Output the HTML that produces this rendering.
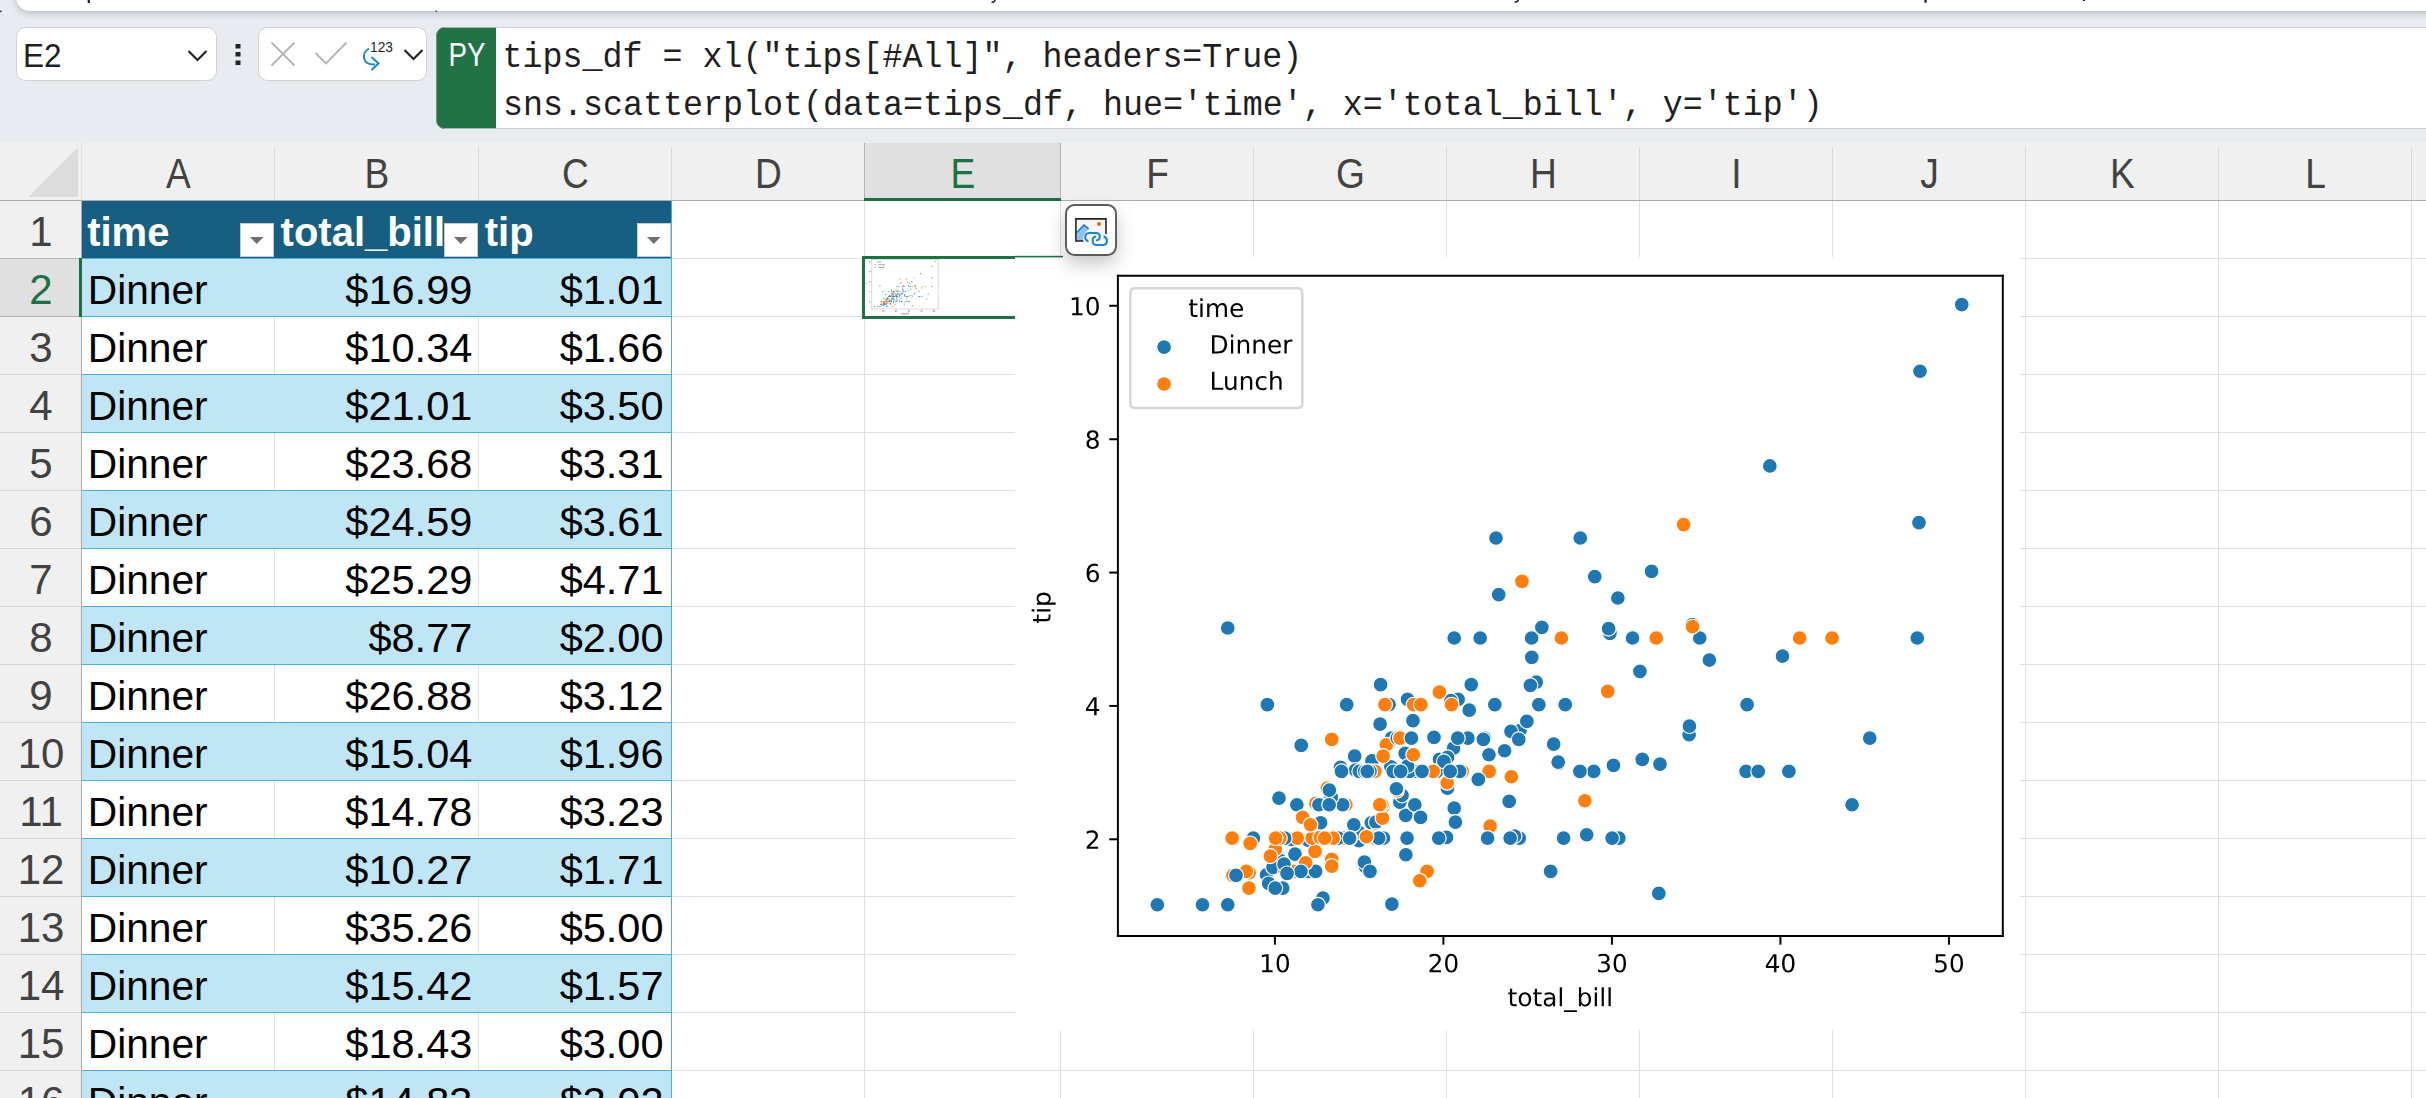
<!DOCTYPE html>
<html><head><meta charset="utf-8"><title>Excel Python</title>
<style>
html,body{margin:0;padding:0;width:2426px;height:1098px;overflow:hidden;background:#fff}
.mb{fill:#1f77b4;stroke:#fff;stroke-width:0.48} .mo{fill:#ff7f0e;stroke:#fff;stroke-width:0.48}
svg text{font-family:"Liberation Sans",sans-serif}
.mono{font-family:"Liberation Mono",monospace}
</style></head><body>
<svg width="2426" height="1098" viewBox="0 0 2426 1098" style="position:absolute;left:0;top:0;display:block">
<defs>
<filter id="tbshadow" x="-5%" y="-50%" width="110%" height="300%"><feDropShadow dx="0" dy="2.5" stdDeviation="3.5" flood-color="#000" flood-opacity="0.2"/></filter>
<filter id="btnshadow" x="-80%" y="-80%" width="260%" height="260%"><feDropShadow dx="0" dy="8" stdDeviation="9" flood-color="#000" flood-opacity="0.22"/></filter>
<clipPath id="cardclip"><rect x="1015" y="257" width="1005" height="773"/></clipPath>
<clipPath id="thumbclip"><rect x="864" y="258" width="151" height="58"/></clipPath>
<clipPath id="pyclip"><rect x="436.5" y="27.5" width="2000" height="101" rx="8"/></clipPath>
</defs>

<rect x="0" y="0" width="2426" height="143" fill="#e8ecf0"/>
<rect x="16.3" y="-30" width="2440" height="41" rx="14" fill="#fff" filter="url(#tbshadow)"/>
<rect x="0" y="10.6" width="1.6" height="1.6" fill="#333"/>
<rect x="87.7" y="0" width="2.2" height="3" fill="#222"/>
<rect x="1924.4" y="0" width="2.3" height="2.7" fill="#222"/>
<rect x="2082.8" y="0" width="2.2" height="1" fill="#222"/>
<path d="M995.2 -1 Q995 2.5 991.5 2.3" fill="none" stroke="#222" stroke-width="1.6"/>
<path d="M1518.4 -1 Q1518.2 2.2 1514.6 2.0" fill="none" stroke="#222" stroke-width="1.6"/>
<rect x="435.5" y="10.5" width="1.5" height="1.5" fill="#444"/>
<rect x="16.5" y="27.5" width="200" height="53" rx="9" fill="#fff" stroke="#d2d2d2" stroke-width="1"/>
<text transform="translate(23.08 66.9) scale(0.93 1)" font-size="33.9" fill="#1f1f1f">E2</text>
<path d="M188.5 51 L197.5 60 L206.5 51" fill="none" stroke="#242424" stroke-width="2.2"/>
<rect x="235.5" y="44" width="5" height="4.5" fill="#242424"/>
<rect x="235.5" y="52" width="5" height="4.5" fill="#242424"/>
<rect x="235.5" y="60.5" width="5" height="4.5" fill="#242424"/>
<rect x="258.5" y="27.5" width="168" height="53" rx="9" fill="#fff" stroke="#d2d2d2" stroke-width="1"/>
<path d="M271.5 42.5 L294.5 65.5 M294.5 42.5 L271.5 65.5" stroke="#b4b4b4" stroke-width="1.8" fill="none"/>
<path d="M315.5 53 L326 63.5 L346.5 42.5" stroke="#b4b4b4" stroke-width="1.8" fill="none"/>
<path d="M369 48.5 C361 53 362 65 375 64.5" stroke="#1a86d0" stroke-width="2" fill="none"/><path d="M371.5 57 L378.5 63.5 L371.5 70" stroke="#1a86d0" stroke-width="2" fill="none"/>
<text x="370" y="52" font-size="15" fill="#242424" textLength="23" lengthAdjust="spacingAndGlyphs">123</text>
<path d="M404.5 50 L413.5 59 L422.5 50" fill="none" stroke="#242424" stroke-width="2.2"/>
<rect x="436.5" y="27.5" width="2100" height="101" rx="8" fill="#fff" stroke="#cfcfcf" stroke-width="1"/>
<rect x="436.5" y="27.5" width="59.5" height="101" fill="#217346" clip-path="url(#pyclip)"/>
<path d="M444.5 27.5 A8 8 0 0 0 436.5 35.5 L436.5 120.5 A8 8 0 0 0 444.5 128.5" fill="none" stroke="#6f8f7c" stroke-width="1"/>
<text transform="translate(448.4 65.9) scale(0.835 1)" font-size="33.2" fill="#fff">PY</text>
<text class="mono" transform="translate(502.5 67) scale(1 1.075)" font-size="33.33" fill="#1f1f1f" xml:space="preserve">tips_df = xl("tips[#All]", headers=True)</text>
<text class="mono" transform="translate(503 115) scale(1 1.075)" font-size="33.33" fill="#1f1f1f" xml:space="preserve">sns.scatterplot(data=tips_df, hue='time', x='total_bill', y='tip')</text>
<rect x="0" y="143" width="2426" height="955" fill="#fff"/>
<rect x="0" y="143" width="2426" height="57" fill="#f0f0f0"/>
<rect x="0" y="200" width="81" height="898" fill="#f0f0f0"/>
<rect x="865" y="143" width="195" height="57" fill="#e0e0e0"/>
<rect x="0" y="259" width="81" height="57" fill="#e0e0e0"/>
<path d="M78 147.5 L78 197 L28.5 197 Z" fill="#dcdcdc"/>
<rect x="274" y="201" width="1" height="897" fill="#e0e0e0"/>
<rect x="478" y="201" width="1" height="897" fill="#e0e0e0"/>
<rect x="671" y="201" width="1" height="897" fill="#e0e0e0"/>
<rect x="864" y="201" width="1" height="897" fill="#e0e0e0"/>
<rect x="1060" y="201" width="1" height="897" fill="#e0e0e0"/>
<rect x="1253" y="201" width="1" height="897" fill="#e0e0e0"/>
<rect x="1446" y="201" width="1" height="897" fill="#e0e0e0"/>
<rect x="1639" y="201" width="1" height="897" fill="#e0e0e0"/>
<rect x="1832" y="201" width="1" height="897" fill="#e0e0e0"/>
<rect x="2025" y="201" width="1" height="897" fill="#e0e0e0"/>
<rect x="2218" y="201" width="1" height="897" fill="#e0e0e0"/>
<rect x="2411" y="201" width="1" height="897" fill="#e0e0e0"/>
<rect x="2604" y="201" width="1" height="897" fill="#e0e0e0"/>
<rect x="82" y="258" width="2426" height="1" fill="#e0e0e0"/>
<rect x="82" y="316" width="2426" height="1" fill="#e0e0e0"/>
<rect x="82" y="374" width="2426" height="1" fill="#e0e0e0"/>
<rect x="82" y="432" width="2426" height="1" fill="#e0e0e0"/>
<rect x="82" y="490" width="2426" height="1" fill="#e0e0e0"/>
<rect x="82" y="548" width="2426" height="1" fill="#e0e0e0"/>
<rect x="82" y="606" width="2426" height="1" fill="#e0e0e0"/>
<rect x="82" y="664" width="2426" height="1" fill="#e0e0e0"/>
<rect x="82" y="722" width="2426" height="1" fill="#e0e0e0"/>
<rect x="82" y="780" width="2426" height="1" fill="#e0e0e0"/>
<rect x="82" y="838" width="2426" height="1" fill="#e0e0e0"/>
<rect x="82" y="896" width="2426" height="1" fill="#e0e0e0"/>
<rect x="82" y="954" width="2426" height="1" fill="#e0e0e0"/>
<rect x="82" y="1012" width="2426" height="1" fill="#e0e0e0"/>
<rect x="82" y="1070" width="2426" height="1" fill="#e0e0e0"/>
<rect x="82" y="1128" width="2426" height="1" fill="#e0e0e0"/>
<rect x="0" y="258" width="81" height="1" fill="#b4b4b4"/>
<rect x="0" y="316" width="81" height="1" fill="#b4b4b4"/>
<rect x="0" y="374" width="81" height="1" fill="#d4d4d4"/>
<rect x="0" y="432" width="81" height="1" fill="#d4d4d4"/>
<rect x="0" y="490" width="81" height="1" fill="#d4d4d4"/>
<rect x="0" y="548" width="81" height="1" fill="#d4d4d4"/>
<rect x="0" y="606" width="81" height="1" fill="#d4d4d4"/>
<rect x="0" y="664" width="81" height="1" fill="#d4d4d4"/>
<rect x="0" y="722" width="81" height="1" fill="#d4d4d4"/>
<rect x="0" y="780" width="81" height="1" fill="#d4d4d4"/>
<rect x="0" y="838" width="81" height="1" fill="#d4d4d4"/>
<rect x="0" y="896" width="81" height="1" fill="#d4d4d4"/>
<rect x="0" y="954" width="81" height="1" fill="#d4d4d4"/>
<rect x="0" y="1012" width="81" height="1" fill="#d4d4d4"/>
<rect x="0" y="1070" width="81" height="1" fill="#d4d4d4"/>
<rect x="0" y="1128" width="81" height="1" fill="#d4d4d4"/>
<rect x="274" y="147" width="1" height="53" fill="#dadada"/>
<rect x="478" y="147" width="1" height="53" fill="#dadada"/>
<rect x="671" y="147" width="1" height="53" fill="#dadada"/>
<rect x="864" y="143" width="1" height="57" fill="#b4b4b4"/>
<rect x="1060" y="143" width="1" height="57" fill="#b4b4b4"/>
<rect x="1253" y="147" width="1" height="53" fill="#dadada"/>
<rect x="1446" y="147" width="1" height="53" fill="#dadada"/>
<rect x="1639" y="147" width="1" height="53" fill="#dadada"/>
<rect x="1832" y="147" width="1" height="53" fill="#dadada"/>
<rect x="2025" y="147" width="1" height="53" fill="#dadada"/>
<rect x="2218" y="147" width="1" height="53" fill="#dadada"/>
<rect x="2411" y="147" width="1" height="53" fill="#dadada"/>
<rect x="2604" y="147" width="1" height="53" fill="#dadada"/>
<rect x="81" y="143" width="1" height="57" fill="#e0e0e0"/>
<rect x="81" y="200" width="1" height="898" fill="#aaaaaa"/>
<rect x="0" y="200" width="2426" height="1" fill="#acacac"/>
<text transform="translate(178.5 188) scale(0.86 1)" font-size="43.2" fill="#424242" text-anchor="middle">A</text>
<text transform="translate(377.0 188) scale(0.86 1)" font-size="43.2" fill="#424242" text-anchor="middle">B</text>
<text transform="translate(575.5 188) scale(0.86 1)" font-size="43.2" fill="#424242" text-anchor="middle">C</text>
<text transform="translate(768.5 188) scale(0.86 1)" font-size="43.2" fill="#424242" text-anchor="middle">D</text>
<text transform="translate(963.0 188) scale(0.86 1)" font-size="43.2" fill="#1e7145" text-anchor="middle">E</text>
<text transform="translate(1157.5 188) scale(0.86 1)" font-size="43.2" fill="#424242" text-anchor="middle">F</text>
<text transform="translate(1350.5 188) scale(0.86 1)" font-size="43.2" fill="#424242" text-anchor="middle">G</text>
<text transform="translate(1543.5 188) scale(0.86 1)" font-size="43.2" fill="#424242" text-anchor="middle">H</text>
<text transform="translate(1736.5 188) scale(0.86 1)" font-size="43.2" fill="#424242" text-anchor="middle">I</text>
<text transform="translate(1929.5 188) scale(0.86 1)" font-size="43.2" fill="#424242" text-anchor="middle">J</text>
<text transform="translate(2122.5 188) scale(0.86 1)" font-size="43.2" fill="#424242" text-anchor="middle">K</text>
<text transform="translate(2315.5 188) scale(0.86 1)" font-size="43.2" fill="#424242" text-anchor="middle">L</text>
<text x="41" y="245.9" font-size="42" fill="#424242" text-anchor="middle">1</text>
<text x="41" y="303.9" font-size="42" fill="#1e7145" text-anchor="middle">2</text>
<text x="41" y="361.9" font-size="42" fill="#424242" text-anchor="middle">3</text>
<text x="41" y="419.9" font-size="42" fill="#424242" text-anchor="middle">4</text>
<text x="41" y="477.9" font-size="42" fill="#424242" text-anchor="middle">5</text>
<text x="41" y="535.9" font-size="42" fill="#424242" text-anchor="middle">6</text>
<text x="41" y="593.9" font-size="42" fill="#424242" text-anchor="middle">7</text>
<text x="41" y="651.9" font-size="42" fill="#424242" text-anchor="middle">8</text>
<text x="41" y="709.9" font-size="42" fill="#424242" text-anchor="middle">9</text>
<text x="41" y="767.9" font-size="42" fill="#424242" text-anchor="middle">10</text>
<text x="41" y="825.9" font-size="42" fill="#424242" text-anchor="middle">11</text>
<text x="41" y="883.9" font-size="42" fill="#424242" text-anchor="middle">12</text>
<text x="41" y="941.9" font-size="42" fill="#424242" text-anchor="middle">13</text>
<text x="41" y="999.9" font-size="42" fill="#424242" text-anchor="middle">14</text>
<text x="41" y="1057.9" font-size="42" fill="#424242" text-anchor="middle">15</text>
<text x="41" y="1115.9" font-size="42" fill="#424242" text-anchor="middle">16</text>
<rect x="864" y="198" width="197" height="3" fill="#1a6e40"/>
<rect x="79" y="258" width="3" height="59" fill="#1a6e40"/>
<rect x="82" y="201" width="589" height="57" fill="#165f82"/>
<rect x="82" y="258" width="589" height="58" fill="#c0e5f5"/>
<rect x="82" y="374" width="589" height="58" fill="#c0e5f5"/>
<rect x="82" y="490" width="589" height="58" fill="#c0e5f5"/>
<rect x="82" y="606" width="589" height="58" fill="#c0e5f5"/>
<rect x="82" y="722" width="589" height="58" fill="#c0e5f5"/>
<rect x="82" y="838" width="589" height="58" fill="#c0e5f5"/>
<rect x="82" y="954" width="589" height="58" fill="#c0e5f5"/>
<rect x="82" y="1070" width="589" height="58" fill="#c0e5f5"/>
<rect x="82" y="258" width="589" height="1" fill="#45b0e1"/>
<rect x="82" y="316" width="589" height="1" fill="#45b0e1"/>
<rect x="82" y="374" width="589" height="1" fill="#45b0e1"/>
<rect x="82" y="432" width="589" height="1" fill="#45b0e1"/>
<rect x="82" y="490" width="589" height="1" fill="#45b0e1"/>
<rect x="82" y="548" width="589" height="1" fill="#45b0e1"/>
<rect x="82" y="606" width="589" height="1" fill="#45b0e1"/>
<rect x="82" y="664" width="589" height="1" fill="#45b0e1"/>
<rect x="82" y="722" width="589" height="1" fill="#45b0e1"/>
<rect x="82" y="780" width="589" height="1" fill="#45b0e1"/>
<rect x="82" y="838" width="589" height="1" fill="#45b0e1"/>
<rect x="82" y="896" width="589" height="1" fill="#45b0e1"/>
<rect x="82" y="954" width="589" height="1" fill="#45b0e1"/>
<rect x="82" y="1012" width="589" height="1" fill="#45b0e1"/>
<rect x="82" y="1070" width="589" height="1" fill="#45b0e1"/>
<rect x="671" y="201" width="1" height="897" fill="#45b0e1"/>
<text x="87.2" y="245.8" font-size="40" font-weight="bold" fill="#fff">time</text>
<text x="280.6" y="245.8" font-size="40" font-weight="bold" fill="#fff">total_bill</text>
<text x="484.8" y="245.8" font-size="40" font-weight="bold" fill="#fff">tip</text>
<rect x="240.5" y="223.5" width="33" height="33" fill="#fff" stroke="#c9c9c9" stroke-width="1"/>
<path d="M250 237 L263.5 237 L256.75 244 Z" fill="#707070"/>
<rect x="444.5" y="223.5" width="33" height="33" fill="#fff" stroke="#c9c9c9" stroke-width="1"/>
<path d="M454 237 L467.5 237 L460.75 244 Z" fill="#707070"/>
<rect x="637.5" y="223.5" width="33" height="33" fill="#fff" stroke="#c9c9c9" stroke-width="1"/>
<path d="M647 237 L660.5 237 L653.75 244 Z" fill="#707070"/>
<text x="87.8" y="303.8" font-size="40.7" fill="#000">Dinner</text>
<text x="472.3" y="303.8" font-size="41.5" fill="#000" text-anchor="end">$16.99</text>
<text x="663.5" y="303.8" font-size="41.5" fill="#000" text-anchor="end">$1.01</text>
<text x="87.8" y="361.8" font-size="40.7" fill="#000">Dinner</text>
<text x="472.3" y="361.8" font-size="41.5" fill="#000" text-anchor="end">$10.34</text>
<text x="663.5" y="361.8" font-size="41.5" fill="#000" text-anchor="end">$1.66</text>
<text x="87.8" y="419.8" font-size="40.7" fill="#000">Dinner</text>
<text x="472.3" y="419.8" font-size="41.5" fill="#000" text-anchor="end">$21.01</text>
<text x="663.5" y="419.8" font-size="41.5" fill="#000" text-anchor="end">$3.50</text>
<text x="87.8" y="477.8" font-size="40.7" fill="#000">Dinner</text>
<text x="472.3" y="477.8" font-size="41.5" fill="#000" text-anchor="end">$23.68</text>
<text x="663.5" y="477.8" font-size="41.5" fill="#000" text-anchor="end">$3.31</text>
<text x="87.8" y="535.8" font-size="40.7" fill="#000">Dinner</text>
<text x="472.3" y="535.8" font-size="41.5" fill="#000" text-anchor="end">$24.59</text>
<text x="663.5" y="535.8" font-size="41.5" fill="#000" text-anchor="end">$3.61</text>
<text x="87.8" y="593.8" font-size="40.7" fill="#000">Dinner</text>
<text x="472.3" y="593.8" font-size="41.5" fill="#000" text-anchor="end">$25.29</text>
<text x="663.5" y="593.8" font-size="41.5" fill="#000" text-anchor="end">$4.71</text>
<text x="87.8" y="651.8" font-size="40.7" fill="#000">Dinner</text>
<text x="472.3" y="651.8" font-size="41.5" fill="#000" text-anchor="end">$8.77</text>
<text x="663.5" y="651.8" font-size="41.5" fill="#000" text-anchor="end">$2.00</text>
<text x="87.8" y="709.8" font-size="40.7" fill="#000">Dinner</text>
<text x="472.3" y="709.8" font-size="41.5" fill="#000" text-anchor="end">$26.88</text>
<text x="663.5" y="709.8" font-size="41.5" fill="#000" text-anchor="end">$3.12</text>
<text x="87.8" y="767.8" font-size="40.7" fill="#000">Dinner</text>
<text x="472.3" y="767.8" font-size="41.5" fill="#000" text-anchor="end">$15.04</text>
<text x="663.5" y="767.8" font-size="41.5" fill="#000" text-anchor="end">$1.96</text>
<text x="87.8" y="825.8" font-size="40.7" fill="#000">Dinner</text>
<text x="472.3" y="825.8" font-size="41.5" fill="#000" text-anchor="end">$14.78</text>
<text x="663.5" y="825.8" font-size="41.5" fill="#000" text-anchor="end">$3.23</text>
<text x="87.8" y="883.8" font-size="40.7" fill="#000">Dinner</text>
<text x="472.3" y="883.8" font-size="41.5" fill="#000" text-anchor="end">$10.27</text>
<text x="663.5" y="883.8" font-size="41.5" fill="#000" text-anchor="end">$1.71</text>
<text x="87.8" y="941.8" font-size="40.7" fill="#000">Dinner</text>
<text x="472.3" y="941.8" font-size="41.5" fill="#000" text-anchor="end">$35.26</text>
<text x="663.5" y="941.8" font-size="41.5" fill="#000" text-anchor="end">$5.00</text>
<text x="87.8" y="999.8" font-size="40.7" fill="#000">Dinner</text>
<text x="472.3" y="999.8" font-size="41.5" fill="#000" text-anchor="end">$15.42</text>
<text x="663.5" y="999.8" font-size="41.5" fill="#000" text-anchor="end">$1.57</text>
<text x="87.8" y="1057.8" font-size="40.7" fill="#000">Dinner</text>
<text x="472.3" y="1057.8" font-size="41.5" fill="#000" text-anchor="end">$18.43</text>
<text x="663.5" y="1057.8" font-size="41.5" fill="#000" text-anchor="end">$3.00</text>
<text x="87.8" y="1115.8" font-size="40.7" fill="#000">Dinner</text>
<text x="472.3" y="1115.8" font-size="41.5" fill="#000" text-anchor="end">$14.83</text>
<text x="663.5" y="1115.8" font-size="41.5" fill="#000" text-anchor="end">$3.02</text>
<g clip-path="url(#cardclip)"><rect x="1015" y="257" width="1005" height="773" fill="#fff"/>
<svg id="chartsvg" x="975.174" y="172.912" width="1141.806" height="857.403" viewBox="0 0 460.8 345.6" preserveAspectRatio="none" style="stroke-linejoin:round;stroke-linecap:butt">
  <g id="figure_1"> <g id="patch_1"> <path d="M 0 345.6 L 460.8 345.6 L 460.8 0 L 0 0 z " style="fill: #ffffff"/> </g> <g id="axes_1"> <g id="patch_2"> <path d="M 57.6 307.584 L 414.72 307.584 L 414.72 41.472 L 57.6 41.472 z " style="fill: #ffffff"/> </g> <g id="PathCollection_1" transform="translate(-0.3229 -0.4918)"> <defs> <path id="C0_0_623b9ded61" d="M 0 3 C 0.795609 3 1.55874 2.683901 2.12132 2.12132 C 2.683901 1.55874 3 0.795609 3 -0 C 3 -0.795609 2.683901 -1.55874 2.12132 -2.12132 C 1.55874 -2.683901 0.795609 -3 0 -3 C -0.795609 -3 -1.55874 -2.683901 -2.12132 -2.12132 C -2.683901 -1.55874 -3 -0.795609 -3 0 C -3 0.795609 -2.683901 1.55874 -2.12132 2.12132 C -1.55874 2.683901 -0.795609 3 0 3 z "/> </defs> <g clip-path="url(#p02d3b5d28d)"> <use href="#C0_0_623b9ded61" x="168.495301" y="295.2192" class="mb"/> <use href="#C0_0_623b9ded61" x="123.272161" y="277.7472" class="mb"/> <use href="#C0_0_623b9ded61" x="195.8332" y="228.288" class="mb"/> <use href="#C0_0_623b9ded61" x="213.99046" y="233.3952" class="mb"/> <use href="#C0_0_623b9ded61" x="220.17889" y="225.3312" class="mb"/> <use href="#C0_0_623b9ded61" x="224.939221" y="195.7632" class="mb"/> <use href="#C0_0_623b9ded61" x="112.595419" y="268.608" class="mb"/> <use href="#C0_0_623b9ded61" x="235.751972" y="238.5024" class="mb"/> <use href="#C0_0_623b9ded61" x="155.23438" y="269.6832" class="mb"/> <use href="#C0_0_623b9ded61" x="153.466257" y="235.5456" class="mb"/> <use href="#C0_0_623b9ded61" x="122.796128" y="276.4032" class="mb"/> <use href="#C0_0_623b9ded61" x="292.739929" y="187.968" class="mb"/> <use href="#C0_0_623b9ded61" x="157.81856" y="280.1664" class="mb"/> <use href="#C0_0_623b9ded61" x="178.287981" y="241.728" class="mb"/> <use href="#C0_0_623b9ded61" x="153.806281" y="241.1904" class="mb"/> <use href="#C0_0_623b9ded61" x="199.709469" y="216.9984" class="mb"/> <use href="#C0_0_623b9ded61" x="123.204156" y="277.4784" class="mb"/> <use href="#C0_0_623b9ded61" x="163.73497" y="222.6432" class="mb"/> <use href="#C0_0_623b9ded61" x="168.359292" y="228.288" class="mb"/> <use href="#C0_0_623b9ded61" x="193.38503" y="232.32" class="mb"/> <use href="#C0_0_623b9ded61" x="174.81974" y="212.6976" class="mb"/> <use href="#C0_0_623b9ded61" x="190.93686" y="248.448" class="mb"/> <use href="#C0_0_623b9ded61" x="160.198725" y="262.4256" class="mb"/> <use href="#C0_0_623b9ded61" x="321.029894" y="118.6176" class="mb"/> <use href="#C0_0_623b9ded61" x="187.740638" y="236.8896" class="mb"/> <use href="#C0_0_623b9ded61" x="174.071688" y="259.4688" class="mb"/> <use href="#C0_0_623b9ded61" x="143.877591" y="268.608" class="mb"/> <use href="#C0_0_623b9ded61" x="139.25327" y="268.608" class="mb"/> <use href="#C0_0_623b9ded61" x="200.525525" y="206.784" class="mb"/> <use href="#C0_0_623b9ded61" x="186.584557" y="241.728" class="mb"/> <use href="#C0_0_623b9ded61" x="117.899787" y="283.392" class="mb"/> <use href="#C0_0_623b9ded61" x="177.743943" y="255.168" class="mb"/> <use href="#C0_0_623b9ded61" x="155.37039" y="241.728" class="mb"/> <use href="#C0_0_623b9ded61" x="193.657048" y="256.512" class="mb"/> <use href="#C0_0_623b9ded61" x="173.867674" y="234.4704" class="mb"/> <use href="#C0_0_623b9ded61" x="216.57464" y="225.6" class="mb"/> <use href="#C0_0_623b9ded61" x="163.87098" y="268.608" class="mb"/> <use href="#C0_0_623b9ded61" x="168.087273" y="239.8464" class="mb"/> <use href="#C0_0_623b9ded61" x="180.056104" y="260.2752" class="mb"/> <use href="#C0_0_623b9ded61" x="265.606045" y="187.968" class="mb"/> <use href="#C0_0_623b9ded61" x="162.034852" y="262.1568" class="mb"/> <use href="#C0_0_623b9ded61" x="171.691523" y="254.0928" class="mb"/> <use href="#C0_0_623b9ded61" x="147.753861" y="240.1152" class="mb"/> <use href="#C0_0_623b9ded61" x="118.783849" y="286.8864" class="mb"/> <use href="#C0_0_623b9ded61" x="259.689634" y="171.84" class="mb"/> <use href="#C0_0_623b9ded61" x="177.335915" y="241.728" class="mb"/> <use href="#C0_0_623b9ded61" x="204.129776" y="187.968" class="mb"/> <use href="#C0_0_623b9ded61" x="273.290579" y="161.088" class="mb"/> <use href="#C0_0_623b9ded61" x="247.10876" y="267.264" class="mb"/> <use href="#C0_0_623b9ded61" x="175.635797" y="241.728" class="mb"/> <use href="#C0_0_623b9ded61" x="138.2332" y="255.168" class="mb"/> <use href="#C0_0_623b9ded61" x="122.932137" y="252.48" class="mb"/> <use href="#C0_0_623b9ded61" x="289.679717" y="182.592" class="mb"/> <use href="#C0_0_623b9ded61" x="120.551972" y="280.4352" class="mb"/> <use href="#C0_0_623b9ded61" x="226.775348" y="205.7088" class="mb"/> <use href="#C0_0_623b9ded61" x="185.496482" y="228.0192" class="mb"/> <use href="#C0_0_623b9ded61" x="311.441228" y="241.728" class="mb"/> <use href="#C0_0_623b9ded61" x="232.55575" y="282.048" class="mb"/> <use href="#C0_0_623b9ded61" x="129.392586" y="275.0592" class="mb"/> <use href="#C0_0_623b9ded61" x="381.214073" y="141.4656" class="mb"/> <use href="#C0_0_623b9ded61" x="190.93686" y="236.0832" class="mb"/> <use href="#C0_0_623b9ded61" x="146.869799" y="268.608" class="mb"/> <use href="#C0_0_623b9ded61" x="127.896482" y="269.1456" class="mb"/> <use href="#C0_0_623b9ded61" x="177.335915" y="221.2992" class="mb"/> <use href="#C0_0_623b9ded61" x="172.575584" y="251.4048" class="mb"/> <use href="#C0_0_623b9ded61" x="189.50876" y="237.696" class="mb"/> <use href="#C0_0_623b9ded61" x="164.823046" y="255.9744" class="mb"/> <use href="#C0_0_623b9ded61" x="73.832727" y="295.488" class="mb"/> <use href="#C0_0_623b9ded61" x="190.528831" y="268.3392" class="mb"/> <use href="#C0_0_623b9ded61" x="155.030366" y="266.1888" class="mb"/> <use href="#C0_0_623b9ded61" x="134.696954" y="269.4144" class="mb"/> <use href="#C0_0_623b9ded61" x="169.039339" y="241.728" class="mb"/> <use href="#C0_0_623b9ded61" x="235.615962" y="237.9648" class="mb"/> <use href="#C0_0_623b9ded61" x="224.871216" y="187.968" class="mb"/> <use href="#C0_0_623b9ded61" x="153.126234" y="263.232" class="mb"/> <use href="#C0_0_623b9ded61" x="124.428241" y="288.768" class="mb"/> <use href="#C0_0_623b9ded61" x="174.81974" y="239.5776" class="mb"/> <use href="#C0_0_623b9ded61" x="237.928123" y="214.848" class="mo"/> <use href="#C0_0_623b9ded61" x="207.734026" y="241.728" class="mo"/> <use href="#C0_0_623b9ded61" x="170.535443" y="249.5232" class="mo"/> <use href="#C0_0_623b9ded61" x="185.156458" y="241.728" class="mo"/> <use href="#C0_0_623b9ded61" x="166.251145" y="230.976" class="mo"/> <use href="#C0_0_623b9ded61" x="121.436033" y="273.1776" class="mo"/> <use href="#C0_0_623b9ded61" x="275.194711" y="187.968" class="mo"/> <use href="#C0_0_623b9ded61" x="161.626824" y="267.8016" class="mo"/> <use href="#C0_0_623b9ded61" x="289.815726" y="183.3984" class="mo"/> <use href="#C0_0_623b9ded61" x="141.565431" y="268.608" class="mo"/> <use href="#C0_0_623b9ded61" x="177.26791" y="214.848" class="mo"/> <use href="#C0_0_623b9ded61" x="220.994947" y="165.12" class="mo"/> <use href="#C0_0_623b9ded61" x="196.85327" y="241.728" class="mo"/> <use href="#C0_0_623b9ded61" x="249.964959" y="241.728" class="mb"/> <use href="#C0_0_623b9ded61" x="205.897898" y="228.288" class="mb"/> <use href="#C0_0_623b9ded61" x="92.057993" y="295.488" class="mb"/> <use href="#C0_0_623b9ded61" x="163.938985" y="206.784" class="mb"/> <use href="#C0_0_623b9ded61" x="207.666021" y="235.008" class="mb"/> <use href="#C0_0_623b9ded61" x="326.130248" y="195.2256" class="mb"/> <use href="#C0_0_623b9ded61" x="238.472161" y="214.848" class="mb"/> <use href="#C0_0_623b9ded61" x="134.764959" y="282.048" class="mb"/> <use href="#C0_0_623b9ded61" x="195.8332" y="241.728" class="mb"/> <use href="#C0_0_623b9ded61" x="137.689162" y="282.048" class="mb"/> <use href="#C0_0_623b9ded61" x="130.140638" y="255.168" class="mb"/> <use href="#C0_0_623b9ded61" x="157.546541" y="241.728" class="mb"/> <use href="#C0_0_623b9ded61" x="354.216198" y="255.168" class="mb"/> <use href="#C0_0_623b9ded61" x="205.421865" y="228.8256" class="mb"/> <use href="#C0_0_623b9ded61" x="195.221157" y="212.6976" class="mb"/> <use href="#C0_0_623b9ded61" x="157.410531" y="278.2848" class="mb"/> <use href="#C0_0_623b9ded61" x="192.296954" y="213.2352" class="mb"/> <use href="#C0_0_623b9ded61" x="224.395183" y="207.0528" class="mb"/> <use href="#C0_0_623b9ded61" x="176.995891" y="221.2992" class="mb"/> <use href="#C0_0_623b9ded61" x="150.270035" y="214.848" class="mb"/> <use href="#C0_0_623b9ded61" x="148.161889" y="241.728" class="mb"/> <use href="#C0_0_623b9ded61" x="102.258701" y="295.488" class="mb"/> <use href="#C0_0_623b9ded61" x="311.849256" y="214.848" class="mb"/> <use href="#C0_0_623b9ded61" x="215.826588" y="253.824" class="mb"/> <use href="#C0_0_623b9ded61" x="227.795419" y="214.848" class="mb"/> <use href="#C0_0_623b9ded61" x="170.671452" y="228.288" class="mb"/> <use href="#C0_0_623b9ded61" x="256.493412" y="186.0864" class="mb"/> <use href="#C0_0_623b9ded61" x="125.380307" y="282.048" class="mo"/> <use href="#C0_0_623b9ded61" x="137.485148" y="273.984" class="mo"/> <use href="#C0_0_623b9ded61" x="216.710649" y="243.8784" class="mo"/> <use href="#C0_0_623b9ded61" x="132.452798" y="260.2752" class="mo"/> <use href="#C0_0_623b9ded61" x="144.217615" y="277.2096" class="mo"/> <use href="#C0_0_623b9ded61" x="149.930012" y="255.168" class="mo"/> <use href="#C0_0_623b9ded61" x="161.42281" y="268.608" class="mo"/> <use href="#C0_0_623b9ded61" x="137.825171" y="254.6304" class="mo"/> <use href="#C0_0_623b9ded61" x="255.609351" y="209.472" class="mo"/> <use href="#C0_0_623b9ded61" x="110.895301" y="282.5856" class="mo"/> <use href="#C0_0_623b9ded61" x="151.698135" y="268.608" class="mo"/> <use href="#C0_0_623b9ded61" x="130.344652" y="268.608" class="mo"/> <use href="#C0_0_623b9ded61" x="208.142054" y="263.7696" class="mo"/> <use href="#C0_0_623b9ded61" x="182.708288" y="282.048" class="mo"/> <use href="#C0_0_623b9ded61" x="190.80085" y="246.2976" class="mo"/> <use href="#C0_0_623b9ded61" x="128.916553" y="282.048" class="mo"/> <use href="#C0_0_623b9ded61" x="136.329067" y="268.608" class="mo"/> <use href="#C0_0_623b9ded61" x="177.131901" y="235.008" class="mo"/> <use href="#C0_0_623b9ded61" x="110.827296" y="288.768" class="mo"/> <use href="#C0_0_623b9ded61" x="123.204156" y="268.608" class="mo"/> <use href="#C0_0_623b9ded61" x="149.18196" y="268.608" class="mo"/> <use href="#C0_0_623b9ded61" x="161.762834" y="268.608" class="mo"/> <use href="#C0_0_623b9ded61" x="142.449492" y="248.448" class="mo"/> <use href="#C0_0_623b9ded61" x="171.759528" y="228.288" class="mo"/> <use href="#C0_0_623b9ded61" x="286.211476" y="142.272" class="mo"/> <use href="#C0_0_623b9ded61" x="333.06673" y="187.968" class="mo"/> <use href="#C0_0_623b9ded61" x="236.908052" y="187.968" class="mo"/> <use href="#C0_0_623b9ded61" x="164.687037" y="260.544" class="mo"/> <use href="#C0_0_623b9ded61" x="109.739221" y="282.048" class="mo"/> <use href="#C0_0_623b9ded61" x="179.71608" y="285.8112" class="mo"/> <use href="#C0_0_623b9ded61" x="133.676883" y="278.5536" class="mo"/> <use href="#C0_0_623b9ded61" x="119.463896" y="275.8656" class="mo"/> <use href="#C0_0_623b9ded61" x="104.026824" y="268.608" class="mo"/> <use href="#C0_0_623b9ded61" x="148.637922" y="255.168" class="mb"/> <use href="#C0_0_623b9ded61" x="142.245478" y="268.608" class="mb"/> <use href="#C0_0_623b9ded61" x="170.331429" y="248.7168" class="mb"/> <use href="#C0_0_623b9ded61" x="219.906871" y="268.608" class="mb"/> <use href="#C0_0_623b9ded61" x="187.400614" y="268.608" class="mb"/> <use href="#C0_0_623b9ded61" x="255.949374" y="184.2048" class="mb"/> <use href="#C0_0_623b9ded61" x="380.534026" y="187.968" class="mb"/> <use href="#C0_0_623b9ded61" x="222.967084" y="221.568" class="mb"/> <use href="#C0_0_623b9ded61" x="144.013601" y="252.2112" class="mb"/> <use href="#C0_0_623b9ded61" x="165.095065" y="268.608" class="mb"/> <use href="#C0_0_623b9ded61" x="199.165431" y="228.288" class="mb"/> <use href="#C0_0_623b9ded61" x="139.049256" y="255.168" class="mb"/> <use href="#C0_0_623b9ded61" x="163.190933" y="268.608" class="mb"/> <use href="#C0_0_623b9ded61" x="146.869799" y="268.608" class="mb"/> <use href="#C0_0_623b9ded61" x="172.031547" y="241.728" class="mb"/> <use href="#C0_0_623b9ded61" x="219.702857" y="228.8256" class="mb"/> <use href="#C0_0_623b9ded61" x="194.133081" y="262.1568" class="mb"/> <use href="#C0_0_623b9ded61" x="268.598253" y="201.408" class="mb"/> <use href="#C0_0_623b9ded61" x="124.972279" y="279.0912" class="mb"/> <use href="#C0_0_623b9ded61" x="125.244298" y="268.608" class="mb"/> <use href="#C0_0_623b9ded61" x="398.487273" y="53.568" class="mb"/> <use href="#C0_0_623b9ded61" x="160.470744" y="237.4272" class="mb"/> <use href="#C0_0_623b9ded61" x="102.258701" y="183.936" class="mb"/> <use href="#C0_0_623b9ded61" x="269.550319" y="236.8896" class="mb"/> <use href="#C0_0_623b9ded61" x="167.339221" y="214.848" class="mb"/> <use href="#C0_0_623b9ded61" x="276.690815" y="238.7712" class="mb"/> <use href="#C0_0_623b9ded61" x="174.615726" y="268.608" class="mb"/> <use href="#C0_0_623b9ded61" x="151.426116" y="268.608" class="mb"/> <use href="#C0_0_623b9ded61" x="118.239811" y="214.848" class="mb"/> <use href="#C0_0_623b9ded61" x="288.455632" y="226.944" class="mb"/> <use href="#C0_0_623b9ded61" x="288.591641" y="223.4496" class="mb"/> <use href="#C0_0_623b9ded61" x="211.610295" y="170.496" class="mb"/> <use href="#C0_0_623b9ded61" x="361.356694" y="228.288" class="mb"/> <use href="#C0_0_623b9ded61" x="210.52222" y="147.648" class="mb"/> <use href="#C0_0_623b9ded61" x="328.714427" y="241.728" class="mb"/> <use href="#C0_0_623b9ded61" x="193.657048" y="187.968" class="mb"/> <use href="#C0_0_623b9ded61" x="195.085148" y="228.288" class="mb"/> <use href="#C0_0_623b9ded61" x="260.097662" y="268.608" class="mb"/> <use href="#C0_0_623b9ded61" x="176.383849" y="228.288" class="mb"/> <use href="#C0_0_623b9ded61" x="210.046187" y="214.848" class="mb"/> <use href="#C0_0_623b9ded61" x="159.654687" y="282.048" class="mb"/> <use href="#C0_0_623b9ded61" x="187.672633" y="209.7408" class="mo"/> <use href="#C0_0_623b9ded61" x="246.360708" y="253.5552" class="mo"/> <use href="#C0_0_623b9ded61" x="158.226588" y="268.0704" class="mo"/> <use href="#C0_0_623b9ded61" x="165.707107" y="214.848" class="mo"/> <use href="#C0_0_623b9ded61" x="104.366848" y="283.6608" class="mo"/> <use href="#C0_0_623b9ded61" x="123.272161" y="268.608" class="mo"/> <use href="#C0_0_623b9ded61" x="346.123636" y="187.968" class="mo"/> <use href="#C0_0_623b9ded61" x="141.361417" y="268.608" class="mo"/> <use href="#C0_0_623b9ded61" x="144.829658" y="268.608" class="mo"/> <use href="#C0_0_623b9ded61" x="180.192113" y="214.848" class="mo"/> <use href="#C0_0_623b9ded61" x="139.593294" y="268.3392" class="mo"/> <use href="#C0_0_623b9ded61" x="141.361417" y="268.608" class="mo"/> <use href="#C0_0_623b9ded61" x="164.483022" y="255.168" class="mo"/> <use href="#C0_0_623b9ded61" x="192.568973" y="214.848" class="mo"/> <use href="#C0_0_623b9ded61" x="164.959055" y="235.5456" class="mo"/> <use href="#C0_0_623b9ded61" x="233.779835" y="230.7072" class="mb"/> <use href="#C0_0_623b9ded61" x="316.337568" y="241.728" class="mb"/> <use href="#C0_0_623b9ded61" x="218.002739" y="267.8016" class="mb"/> <use href="#C0_0_623b9ded61" x="139.729303" y="262.4256" class="mb"/> <use href="#C0_0_623b9ded61" x="257.377473" y="268.608" class="mb"/> <use href="#C0_0_623b9ded61" x="229.019504" y="183.6672" class="mb"/> <use href="#C0_0_623b9ded61" x="381.622102" y="80.448" class="mb"/> <use href="#C0_0_623b9ded61" x="143.197544" y="255.168" class="mb"/> <use href="#C0_0_623b9ded61" x="244.524581" y="147.648" class="mb"/> <use href="#C0_0_623b9ded61" x="140.68137" y="292.8" class="mb"/> <use href="#C0_0_623b9ded61" x="244.388571" y="241.728" class="mb"/> <use href="#C0_0_623b9ded61" x="131.772751" y="282.048" class="mb"/> <use href="#C0_0_623b9ded61" x="105.590933" y="283.6608" class="mb"/> <use href="#C0_0_623b9ded61" x="257.921511" y="239.3088" class="mb"/> <use href="#C0_0_623b9ded61" x="135.64902" y="263.232" class="mo"/> <use href="#C0_0_623b9ded61" x="144.217615" y="228.8256" class="mo"/> <use href="#C0_0_623b9ded61" x="111.303329" y="270.7584" class="mo"/> <use href="#C0_0_623b9ded61" x="161.626824" y="241.728" class="mo"/> <use href="#C0_0_623b9ded61" x="144.217615" y="279.8976" class="mo"/> <use href="#C0_0_623b9ded61" x="163.598961" y="255.168" class="mo"/> <use href="#C0_0_623b9ded61" x="121.572043" y="268.608" class="mo"/> <use href="#C0_0_623b9ded61" x="192.024935" y="241.728" class="mb"/> <use href="#C0_0_623b9ded61" x="143.265549" y="249.2544" class="mb"/> <use href="#C0_0_623b9ded61" x="203.381724" y="244.9536" class="mb"/> <use href="#C0_0_623b9ded61" x="216.234616" y="268.608" class="mb"/> <use href="#C0_0_623b9ded61" x="159.654687" y="241.728" class="mb"/> <use href="#C0_0_623b9ded61" x="131.90876" y="231.2448" class="mb"/> <use href="#C0_0_623b9ded61" x="126.196364" y="282.8544" class="mb"/> <use href="#C0_0_623b9ded61" x="158.566612" y="241.728" class="mb"/> <use href="#C0_0_623b9ded61" x="121.436033" y="288.768" class="mb"/> <use href="#C0_0_623b9ded61" x="138.641228" y="295.488" class="mb"/> <use href="#C0_0_623b9ded61" x="276.214782" y="290.9184" class="mb"/> <use href="#C0_0_623b9ded61" x="296.616198" y="196.8384" class="mb"/> <use href="#C0_0_623b9ded61" x="250.372987" y="163.2384" class="mb"/> <use href="#C0_0_623b9ded61" x="237.792113" y="268.608" class="mb"/> <use href="#C0_0_623b9ded61" x="207.121983" y="268.608" class="mb"/> <use href="#C0_0_623b9ded61" x="174.139693" y="275.328" class="mb"/> <use href="#C0_0_623b9ded61" x="180.668146" y="241.728" class="mb"/> </g> </g> <g id="matplotlib.axis_1"> <g id="xtick_1"> <g id="line2d_1"> <defs> <path id="m1504cfccaf" d="M 0 0 L 0 3.5 " style="stroke: #000000; stroke-width: 0.8"/> </defs> <g> <use href="#m1504cfccaf" x="120.96" y="307.584" style="stroke: #000000; stroke-width: 0.8"/> </g> </g> <g id="text_1"> <!-- 10 --> <g transform="translate(114.5975 322.182437) scale(0.1 -0.1)"> <defs> <path id="gl-31" d="M 794 531 L 1825 531 L 1825 4091 L 703 3866 L 703 4441 L 1819 4666 L 2450 4666 L 2450 531 L 3481 531 L 3481 0 L 794 0 L 794 531 z " transform="scale(0.015625)"/> <path id="gl-30" d="M 2034 4250 Q 1547 4250 1301 3770 Q 1056 3291 1056 2328 Q 1056 1369 1301 889 Q 1547 409 2034 409 Q 2525 409 2770 889 Q 3016 1369 3016 2328 Q 3016 3291 2770 3770 Q 2525 4250 2034 4250 z M 2034 4750 Q 2819 4750 3233 4129 Q 3647 3509 3647 2328 Q 3647 1150 3233 529 Q 2819 -91 2034 -91 Q 1250 -91 836 529 Q 422 1150 422 2328 Q 422 3509 836 4129 Q 1250 4750 2034 4750 z " transform="scale(0.015625)"/> </defs> <use href="#gl-31"/> <use href="#gl-30" transform="translate(63.623047 0)"/> </g> </g> </g> <g id="xtick_2"> <g id="line2d_2"> <g> <use href="#m1504cfccaf" x="188.964723" y="307.584" style="stroke: #000000; stroke-width: 0.8"/> </g> </g> <g id="text_2"> <!-- 20 --> <g transform="translate(182.602223 322.182437) scale(0.1 -0.1)"> <defs> <path id="gl-32" d="M 1228 531 L 3431 531 L 3431 0 L 469 0 L 469 531 Q 828 903 1448 1529 Q 2069 2156 2228 2338 Q 2531 2678 2651 2914 Q 2772 3150 2772 3378 Q 2772 3750 2511 3984 Q 2250 4219 1831 4219 Q 1534 4219 1204 4116 Q 875 4013 500 3803 L 500 4441 Q 881 4594 1212 4672 Q 1544 4750 1819 4750 Q 2544 4750 2975 4387 Q 3406 4025 3406 3419 Q 3406 3131 3298 2873 Q 3191 2616 2906 2266 Q 2828 2175 2409 1742 Q 1991 1309 1228 531 z " transform="scale(0.015625)"/> </defs> <use href="#gl-32"/> <use href="#gl-30" transform="translate(63.623047 0)"/> </g> </g> </g> <g id="xtick_3"> <g id="line2d_3"> <g> <use href="#m1504cfccaf" x="256.969445" y="307.584" style="stroke: #000000; stroke-width: 0.8"/> </g> </g> <g id="text_3"> <!-- 30 --> <g transform="translate(250.606945 322.182437) scale(0.1 -0.1)"> <defs> <path id="gl-33" d="M 2597 2516 Q 3050 2419 3304 2112 Q 3559 1806 3559 1356 Q 3559 666 3084 287 Q 2609 -91 1734 -91 Q 1441 -91 1130 -33 Q 819 25 488 141 L 488 750 Q 750 597 1062 519 Q 1375 441 1716 441 Q 2309 441 2620 675 Q 2931 909 2931 1356 Q 2931 1769 2642 2001 Q 2353 2234 1838 2234 L 1294 2234 L 1294 2753 L 1863 2753 Q 2328 2753 2575 2939 Q 2822 3125 2822 3475 Q 2822 3834 2567 4026 Q 2313 4219 1838 4219 Q 1578 4219 1281 4162 Q 984 4106 628 3988 L 628 4550 Q 988 4650 1302 4700 Q 1616 4750 1894 4750 Q 2613 4750 3031 4423 Q 3450 4097 3450 3541 Q 3450 3153 3228 2886 Q 3006 2619 2597 2516 z " transform="scale(0.015625)"/> </defs> <use href="#gl-33"/> <use href="#gl-30" transform="translate(63.623047 0)"/> </g> </g> </g> <g id="xtick_4"> <g id="line2d_4"> <g> <use href="#m1504cfccaf" x="324.974168" y="307.584" style="stroke: #000000; stroke-width: 0.8"/> </g> </g> <g id="text_4"> <!-- 40 --> <g transform="translate(318.611668 322.182437) scale(0.1 -0.1)"> <defs> <path id="gl-34" d="M 2419 4116 L 825 1625 L 2419 1625 L 2419 4116 z M 2253 4666 L 3047 4666 L 3047 1625 L 3713 1625 L 3713 1100 L 3047 1100 L 3047 0 L 2419 0 L 2419 1100 L 313 1100 L 313 1709 L 2253 4666 z " transform="scale(0.015625)"/> </defs> <use href="#gl-34"/> <use href="#gl-30" transform="translate(63.623047 0)"/> </g> </g> </g> <g id="xtick_5"> <g id="line2d_5"> <g> <use href="#m1504cfccaf" x="392.97889" y="307.584" style="stroke: #000000; stroke-width: 0.8"/> </g> </g> <g id="text_5"> <!-- 50 --> <g transform="translate(386.61639 322.182437) scale(0.1 -0.1)"> <defs> <path id="gl-35" d="M 691 4666 L 3169 4666 L 3169 4134 L 1269 4134 L 1269 2991 Q 1406 3038 1543 3061 Q 1681 3084 1819 3084 Q 2600 3084 3056 2656 Q 3513 2228 3513 1497 Q 3513 744 3044 326 Q 2575 -91 1722 -91 Q 1428 -91 1123 -41 Q 819 9 494 109 L 494 744 Q 775 591 1075 516 Q 1375 441 1709 441 Q 2250 441 2565 725 Q 2881 1009 2881 1497 Q 2881 1984 2565 2268 Q 2250 2553 1709 2553 Q 1456 2553 1204 2497 Q 953 2441 691 2322 L 691 4666 z " transform="scale(0.015625)"/> </defs> <use href="#gl-35"/> <use href="#gl-30" transform="translate(63.623047 0)"/> </g> </g> </g> <g id="text_6"> <!-- total_bill --> <g transform="translate(214.885781 335.860562) scale(0.1 -0.1)"> <defs> <path id="gl-74" d="M 1172 4494 L 1172 3500 L 2356 3500 L 2356 3053 L 1172 3053 L 1172 1153 Q 1172 725 1289 603 Q 1406 481 1766 481 L 2356 481 L 2356 0 L 1766 0 Q 1100 0 847 248 Q 594 497 594 1153 L 594 3053 L 172 3053 L 172 3500 L 594 3500 L 594 4494 L 1172 4494 z " transform="scale(0.015625)"/> <path id="gl-6f" d="M 1959 3097 Q 1497 3097 1228 2736 Q 959 2375 959 1747 Q 959 1119 1226 758 Q 1494 397 1959 397 Q 2419 397 2687 759 Q 2956 1122 2956 1747 Q 2956 2369 2687 2733 Q 2419 3097 1959 3097 z M 1959 3584 Q 2709 3584 3137 3096 Q 3566 2609 3566 1747 Q 3566 888 3137 398 Q 2709 -91 1959 -91 Q 1206 -91 779 398 Q 353 888 353 1747 Q 353 2609 779 3096 Q 1206 3584 1959 3584 z " transform="scale(0.015625)"/> <path id="gl-61" d="M 2194 1759 Q 1497 1759 1228 1600 Q 959 1441 959 1056 Q 959 750 1161 570 Q 1363 391 1709 391 Q 2188 391 2477 730 Q 2766 1069 2766 1631 L 2766 1759 L 2194 1759 z M 3341 1997 L 3341 0 L 2766 0 L 2766 531 Q 2569 213 2275 61 Q 1981 -91 1556 -91 Q 1019 -91 701 211 Q 384 513 384 1019 Q 384 1609 779 1909 Q 1175 2209 1959 2209 L 2766 2209 L 2766 2266 Q 2766 2663 2505 2880 Q 2244 3097 1772 3097 Q 1472 3097 1187 3025 Q 903 2953 641 2809 L 641 3341 Q 956 3463 1253 3523 Q 1550 3584 1831 3584 Q 2591 3584 2966 3190 Q 3341 2797 3341 1997 z " transform="scale(0.015625)"/> <path id="gl-6c" d="M 603 4863 L 1178 4863 L 1178 0 L 603 0 L 603 4863 z " transform="scale(0.015625)"/> <path id="gl-5f" d="M 3263 -1063 L 3263 -1509 L -63 -1509 L -63 -1063 L 3263 -1063 z " transform="scale(0.015625)"/> <path id="gl-62" d="M 3116 1747 Q 3116 2381 2855 2742 Q 2594 3103 2138 3103 Q 1681 3103 1420 2742 Q 1159 2381 1159 1747 Q 1159 1113 1420 752 Q 1681 391 2138 391 Q 2594 391 2855 752 Q 3116 1113 3116 1747 z M 1159 2969 Q 1341 3281 1617 3432 Q 1894 3584 2278 3584 Q 2916 3584 3314 3078 Q 3713 2572 3713 1747 Q 3713 922 3314 415 Q 2916 -91 2278 -91 Q 1894 -91 1617 61 Q 1341 213 1159 525 L 1159 0 L 581 0 L 581 4863 L 1159 4863 L 1159 2969 z " transform="scale(0.015625)"/> <path id="gl-69" d="M 603 3500 L 1178 3500 L 1178 0 L 603 0 L 603 3500 z M 603 4863 L 1178 4863 L 1178 4134 L 603 4134 L 603 4863 z " transform="scale(0.015625)"/> </defs> <use href="#gl-74"/> <use href="#gl-6f" transform="translate(39.208984 0)"/> <use href="#gl-74" transform="translate(100.390625 0)"/> <use href="#gl-61" transform="translate(139.599609 0)"/> <use href="#gl-6c" transform="translate(200.878906 0)"/> <use href="#gl-5f" transform="translate(228.662109 0)"/> <use href="#gl-62" transform="translate(278.662109 0)"/> <use href="#gl-69" transform="translate(342.138672 0)"/> <use href="#gl-6c" transform="translate(369.921875 0)"/> <use href="#gl-6c" transform="translate(397.705078 0)"/> </g> </g> </g> <g id="matplotlib.axis_2"> <g id="ytick_1"> <g id="line2d_6"> <defs> <path id="m5d545ce8f8" d="M 0 0 L -3.5 0 " style="stroke: #000000; stroke-width: 0.8"/> </defs> <g> <use href="#m5d545ce8f8" x="57.6" y="268.608" style="stroke: #000000; stroke-width: 0.8"/> </g> </g> <g id="text_7"> <!-- 2 --> <g transform="translate(44.2375 272.407219) scale(0.1 -0.1)"> <use href="#gl-32"/> </g> </g> </g> <g id="ytick_2"> <g id="line2d_7"> <g> <use href="#m5d545ce8f8" x="57.6" y="214.848" style="stroke: #000000; stroke-width: 0.8"/> </g> </g> <g id="text_8"> <!-- 4 --> <g transform="translate(44.2375 218.647219) scale(0.1 -0.1)"> <use href="#gl-34"/> </g> </g> </g> <g id="ytick_3"> <g id="line2d_8"> <g> <use href="#m5d545ce8f8" x="57.6" y="161.088" style="stroke: #000000; stroke-width: 0.8"/> </g> </g> <g id="text_9"> <!-- 6 --> <g transform="translate(44.2375 164.887219) scale(0.1 -0.1)"> <defs> <path id="gl-36" d="M 2113 2584 Q 1688 2584 1439 2293 Q 1191 2003 1191 1497 Q 1191 994 1439 701 Q 1688 409 2113 409 Q 2538 409 2786 701 Q 3034 994 3034 1497 Q 3034 2003 2786 2293 Q 2538 2584 2113 2584 z M 3366 4563 L 3366 3988 Q 3128 4100 2886 4159 Q 2644 4219 2406 4219 Q 1781 4219 1451 3797 Q 1122 3375 1075 2522 Q 1259 2794 1537 2939 Q 1816 3084 2150 3084 Q 2853 3084 3261 2657 Q 3669 2231 3669 1497 Q 3669 778 3244 343 Q 2819 -91 2113 -91 Q 1303 -91 875 529 Q 447 1150 447 2328 Q 447 3434 972 4092 Q 1497 4750 2381 4750 Q 2619 4750 2861 4703 Q 3103 4656 3366 4563 z " transform="scale(0.015625)"/> </defs> <use href="#gl-36"/> </g> </g> </g> <g id="ytick_4"> <g id="line2d_9"> <g> <use href="#m5d545ce8f8" x="57.6" y="107.328" style="stroke: #000000; stroke-width: 0.8"/> </g> </g> <g id="text_10"> <!-- 8 --> <g transform="translate(44.2375 111.127219) scale(0.1 -0.1)"> <defs> <path id="gl-38" d="M 2034 2216 Q 1584 2216 1326 1975 Q 1069 1734 1069 1313 Q 1069 891 1326 650 Q 1584 409 2034 409 Q 2484 409 2743 651 Q 3003 894 3003 1313 Q 3003 1734 2745 1975 Q 2488 2216 2034 2216 z M 1403 2484 Q 997 2584 770 2862 Q 544 3141 544 3541 Q 544 4100 942 4425 Q 1341 4750 2034 4750 Q 2731 4750 3128 4425 Q 3525 4100 3525 3541 Q 3525 3141 3298 2862 Q 3072 2584 2669 2484 Q 3125 2378 3379 2068 Q 3634 1759 3634 1313 Q 3634 634 3220 271 Q 2806 -91 2034 -91 Q 1263 -91 848 271 Q 434 634 434 1313 Q 434 1759 690 2068 Q 947 2378 1403 2484 z M 1172 3481 Q 1172 3119 1398 2916 Q 1625 2713 2034 2713 Q 2441 2713 2670 2916 Q 2900 3119 2900 3481 Q 2900 3844 2670 4047 Q 2441 4250 2034 4250 Q 1625 4250 1398 4047 Q 1172 3844 1172 3481 z " transform="scale(0.015625)"/> </defs> <use href="#gl-38"/> </g> </g> </g> <g id="ytick_5"> <g id="line2d_10"> <g> <use href="#m5d545ce8f8" x="57.6" y="53.568" style="stroke: #000000; stroke-width: 0.8"/> </g> </g> <g id="text_11"> <!-- 10 --> <g transform="translate(37.875 57.367219) scale(0.1 -0.1)"> <use href="#gl-31"/> <use href="#gl-30" transform="translate(63.623047 0)"/> </g> </g> </g> <g id="text_12" transform="translate(-1.4125 0.6046)"> <!-- tip --> <g transform="translate(31.795313 181.051437) rotate(-90) scale(0.1 -0.1)"> <defs> <path id="gl-70" d="M 1159 525 L 1159 -1331 L 581 -1331 L 581 3500 L 1159 3500 L 1159 2969 Q 1341 3281 1617 3432 Q 1894 3584 2278 3584 Q 2916 3584 3314 3078 Q 3713 2572 3713 1747 Q 3713 922 3314 415 Q 2916 -91 2278 -91 Q 1894 -91 1617 61 Q 1341 213 1159 525 z M 3116 1747 Q 3116 2381 2855 2742 Q 2594 3103 2138 3103 Q 1681 3103 1420 2742 Q 1159 2381 1159 1747 Q 1159 1113 1420 752 Q 1681 391 2138 391 Q 2594 391 2855 752 Q 3116 1113 3116 1747 z " transform="scale(0.015625)"/> </defs> <use href="#gl-74"/> <use href="#gl-69" transform="translate(39.208984 0)"/> <use href="#gl-70" transform="translate(66.992188 0)"/> </g> </g> </g> <g id="line2d_11"/> <g id="line2d_12"/> <g id="patch_3"> <path d="M 57.6 307.584 L 57.6 41.472 " style="fill: none; stroke: #000000; stroke-width: 0.8; stroke-linejoin: miter; stroke-linecap: square"/> </g> <g id="patch_4"> <path d="M 414.72 307.584 L 414.72 41.472 " style="fill: none; stroke: #000000; stroke-width: 0.8; stroke-linejoin: miter; stroke-linecap: square"/> </g> <g id="patch_5"> <path d="M 57.6 307.584 L 414.72 307.584 " style="fill: none; stroke: #000000; stroke-width: 0.8; stroke-linejoin: miter; stroke-linecap: square"/> </g> <g id="patch_6"> <path d="M 57.6 41.472 L 414.72 41.472 " style="fill: none; stroke: #000000; stroke-width: 0.8; stroke-linejoin: miter; stroke-linecap: square"/> </g> <g id="legend_1"> <g id="patch_7"> <path d="M 64.6 94.7156 L 130.017188 94.7156 Q 132.017188 94.7156 132.017188 92.7156 L 132.017188 48.472 Q 132.017188 46.472 130.017188 46.472 L 64.6 46.472 Q 62.6 46.472 62.6 48.472 L 62.6 92.7156 Q 62.6 94.7156 64.6 94.7156 z " style="fill: #ffffff; opacity: 0.8; stroke: #cccccc; stroke-linejoin: miter"/> </g> <g id="text_13"> <!-- time --> <g transform="translate(86.0125 58.070438) scale(0.1 -0.1)"> <defs> <path id="gl-6d" d="M 3328 2828 Q 3544 3216 3844 3400 Q 4144 3584 4550 3584 Q 5097 3584 5394 3201 Q 5691 2819 5691 2113 L 5691 0 L 5113 0 L 5113 2094 Q 5113 2597 4934 2840 Q 4756 3084 4391 3084 Q 3944 3084 3684 2787 Q 3425 2491 3425 1978 L 3425 0 L 2847 0 L 2847 2094 Q 2847 2600 2669 2842 Q 2491 3084 2119 3084 Q 1678 3084 1418 2786 Q 1159 2488 1159 1978 L 1159 0 L 581 0 L 581 3500 L 1159 3500 L 1159 2956 Q 1356 3278 1631 3431 Q 1906 3584 2284 3584 Q 2666 3584 2933 3390 Q 3200 3197 3328 2828 z " transform="scale(0.015625)"/> <path id="gl-65" d="M 3597 1894 L 3597 1613 L 953 1613 Q 991 1019 1311 708 Q 1631 397 2203 397 Q 2534 397 2845 478 Q 3156 559 3463 722 L 3463 178 Q 3153 47 2828 -22 Q 2503 -91 2169 -91 Q 1331 -91 842 396 Q 353 884 353 1716 Q 353 2575 817 3079 Q 1281 3584 2069 3584 Q 2775 3584 3186 3129 Q 3597 2675 3597 1894 z M 3022 2063 Q 3016 2534 2758 2815 Q 2500 3097 2075 3097 Q 1594 3097 1305 2825 Q 1016 2553 972 2059 L 3022 2063 z " transform="scale(0.015625)"/> </defs> <use href="#gl-74"/> <use href="#gl-69" transform="translate(39.208984 0)"/> <use href="#gl-6d" transform="translate(66.992188 0)"/> <use href="#gl-65" transform="translate(164.404297 0)"/> </g> </g> <g id="line2d_13" transform="translate(-0.3632 0.9674)"> <defs> <path id="m36eaaa4c20" d="M 0 3 C 0.795609 3 1.55874 2.683901 2.12132 2.12132 C 2.683901 1.55874 3 0.795609 3 0 C 3 -0.795609 2.683901 -1.55874 2.12132 -2.12132 C 1.55874 -2.683901 0.795609 -3 0 -3 C -0.795609 -3 -1.55874 -2.683901 -2.12132 -2.12132 C -2.683901 -1.55874 -3 -0.795609 -3 0 C -3 0.795609 -2.683901 1.55874 -2.12132 2.12132 C -1.55874 2.683901 -0.795609 3 0 3 z " style="stroke: #ffffff; stroke-width: 0.48"/> </defs> <g> <use href="#m36eaaa4c20" x="76.6" y="69.248563" class="mb"/> </g> </g> <g id="text_14"> <!-- Dinner --> <g transform="translate(94.6 72.748563) scale(0.1 -0.1)"> <defs> <path id="gl-44" d="M 1259 4147 L 1259 519 L 2022 519 Q 2988 519 3436 956 Q 3884 1394 3884 2338 Q 3884 3275 3436 3711 Q 2988 4147 2022 4147 L 1259 4147 z M 628 4666 L 1925 4666 Q 3281 4666 3915 4102 Q 4550 3538 4550 2338 Q 4550 1131 3912 565 Q 3275 0 1925 0 L 628 0 L 628 4666 z " transform="scale(0.015625)"/> <path id="gl-6e" d="M 3513 2113 L 3513 0 L 2938 0 L 2938 2094 Q 2938 2591 2744 2837 Q 2550 3084 2163 3084 Q 1697 3084 1428 2787 Q 1159 2491 1159 1978 L 1159 0 L 581 0 L 581 3500 L 1159 3500 L 1159 2956 Q 1366 3272 1645 3428 Q 1925 3584 2291 3584 Q 2894 3584 3203 3211 Q 3513 2838 3513 2113 z " transform="scale(0.015625)"/> <path id="gl-72" d="M 2631 2963 Q 2534 3019 2420 3045 Q 2306 3072 2169 3072 Q 1681 3072 1420 2755 Q 1159 2438 1159 1844 L 1159 0 L 581 0 L 581 3500 L 1159 3500 L 1159 2956 Q 1341 3275 1631 3429 Q 1922 3584 2338 3584 Q 2397 3584 2469 3576 Q 2541 3569 2628 3553 L 2631 2963 z " transform="scale(0.015625)"/> </defs> <use href="#gl-44"/> <use href="#gl-69" transform="translate(77.001953 0)"/> <use href="#gl-6e" transform="translate(104.785156 0)"/> <use href="#gl-6e" transform="translate(168.164062 0)"/> <use href="#gl-65" transform="translate(231.542969 0)"/> <use href="#gl-72" transform="translate(293.066406 0)"/> </g> </g> <g id="line2d_14" transform="translate(-0.3632 1.1689)"> <defs> <path id="m6981cc2742" d="M 0 3 C 0.795609 3 1.55874 2.683901 2.12132 2.12132 C 2.683901 1.55874 3 0.795609 3 0 C 3 -0.795609 2.683901 -1.55874 2.12132 -2.12132 C 1.55874 -2.683901 0.795609 -3 0 -3 C -0.795609 -3 -1.55874 -2.683901 -2.12132 -2.12132 C -2.683901 -1.55874 -3 -0.795609 -3 0 C -3 0.795609 -2.683901 1.55874 -2.12132 2.12132 C -1.55874 2.683901 -0.795609 3 0 3 z " style="stroke: #ffffff; stroke-width: 0.48"/> </defs> <g> <use href="#m6981cc2742" x="76.6" y="83.926688" class="mo"/> </g> </g> <g id="text_15"> <!-- Lunch --> <g transform="translate(94.6 87.426688) scale(0.1 -0.1)"> <defs> <path id="gl-4c" d="M 628 4666 L 1259 4666 L 1259 531 L 3531 531 L 3531 0 L 628 0 L 628 4666 z " transform="scale(0.015625)"/> <path id="gl-75" d="M 544 1381 L 544 3500 L 1119 3500 L 1119 1403 Q 1119 906 1312 657 Q 1506 409 1894 409 Q 2359 409 2629 706 Q 2900 1003 2900 1516 L 2900 3500 L 3475 3500 L 3475 0 L 2900 0 L 2900 538 Q 2691 219 2414 64 Q 2138 -91 1772 -91 Q 1169 -91 856 284 Q 544 659 544 1381 z M 1991 3584 L 1991 3584 z " transform="scale(0.015625)"/> <path id="gl-63" d="M 3122 3366 L 3122 2828 Q 2878 2963 2633 3030 Q 2388 3097 2138 3097 Q 1578 3097 1268 2742 Q 959 2388 959 1747 Q 959 1106 1268 751 Q 1578 397 2138 397 Q 2388 397 2633 464 Q 2878 531 3122 666 L 3122 134 Q 2881 22 2623 -34 Q 2366 -91 2075 -91 Q 1284 -91 818 406 Q 353 903 353 1747 Q 353 2603 823 3093 Q 1294 3584 2113 3584 Q 2378 3584 2631 3529 Q 2884 3475 3122 3366 z " transform="scale(0.015625)"/> <path id="gl-68" d="M 3513 2113 L 3513 0 L 2938 0 L 2938 2094 Q 2938 2591 2744 2837 Q 2550 3084 2163 3084 Q 1697 3084 1428 2787 Q 1159 2491 1159 1978 L 1159 0 L 581 0 L 581 4863 L 1159 4863 L 1159 2956 Q 1366 3272 1645 3428 Q 1925 3584 2291 3584 Q 2894 3584 3203 3211 Q 3513 2838 3513 2113 z " transform="scale(0.015625)"/> </defs> <use href="#gl-4c"/> <use href="#gl-75" transform="translate(53.962891 0)"/> <use href="#gl-6e" transform="translate(117.341797 0)"/> <use href="#gl-63" transform="translate(180.720703 0)"/> <use href="#gl-68" transform="translate(235.701172 0)"/> </g> </g> </g> </g> </g> <defs> <clipPath id="p02d3b5d28d"> <rect x="57.6" y="41.472" width="357.12" height="266.112"/> </clipPath> </defs> 
</svg></g>
<g clip-path="url(#thumbclip)"><g transform="translate(864 258) scale(0.07503) translate(-1015 -257)"><use href="#chartsvg"/></g></g>
<rect x="862" y="256" width="153" height="3" fill="#1e7145"/>
<rect x="862" y="316" width="153" height="3" fill="#1e7145"/>
<rect x="862" y="256" width="3" height="63" fill="#1e7145"/>
<rect x="1015" y="255.8" width="48" height="1.6" fill="#1e7145"/>
<g filter="url(#btnshadow)"><rect x="1066" y="205" width="50" height="50" rx="8.5" fill="#fff" stroke="#5a5a5a" stroke-width="1.9"/></g>
<g transform="translate(1060 200)">
<rect x="16.5" y="19.5" width="29" height="21" fill="#f5f5f5"/>
<path d="M16.5 33 L24 25.5 L28.5 29.5 C25 32 22.5 36 23 41 L16.5 41 Z" fill="#8cc4ee"/>
<path d="M16.8 32.5 L24 25 L28.6 28.8" fill="none" stroke="#1a73c8" stroke-width="1.6"/>
<path d="M23.5 41.0 L15.9 41.0 L15.9 18.9 L46.0 18.9 L46.0 34" fill="none" stroke="#222" stroke-width="1.6"/>
<circle cx="39" cy="24" r="2" fill="#e06c00"/>
<path d="M28.5 41.5 C24 40 24 33.5 29 33 L36.5 33 C41 33.5 41 40 36 40.5" fill="none" stroke="#1a86d0" stroke-width="2"/>
<path d="M36 36.5 C31.5 37 31.5 44.5 36 45 L43.5 45 C48 44.5 48 38 43.6 36.3" fill="none" stroke="#1a86d0" stroke-width="2"/>
</g>
</svg></body></html>
